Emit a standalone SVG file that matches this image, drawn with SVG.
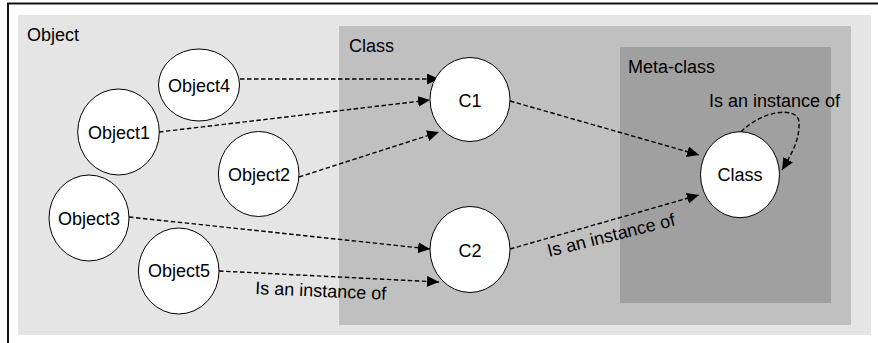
<svg xmlns="http://www.w3.org/2000/svg" width="878" height="343" viewBox="0 0 878 343">
<style>
.node ellipse{fill:#fff;stroke:#000;stroke-width:1}
text{font-family:"Liberation Sans",Arial,sans-serif;font-size:18px;fill:#000}
.nt{text-anchor:middle}
.edge{fill:none;stroke:#000;stroke-width:1.4;stroke-dasharray:4.5 2.5;marker-end:url(#ah)}
</style>
<defs>
<marker id="ah" markerUnits="userSpaceOnUse" markerWidth="13" markerHeight="12" refX="12" refY="5.5" orient="auto">
<path d="M0,0 L12,5.5 L0,11 z" fill="#000"/>
</marker>
</defs>
<rect width="878" height="343" fill="#fff"/>
<path d="M8,343 V3.5 H878" fill="none" stroke="#111" stroke-width="2"/>
<g id="region-object">
<rect x="18" y="15" width="853" height="320" fill="#e5e5e5"/>
<text x="27" y="41">Object</text>
</g>
<g id="region-class">
<rect x="339" y="26" width="512" height="299" fill="#c0c0c0"/>
<text x="349" y="52">Class</text>
</g>
<g id="region-metaclass">
<rect x="620" y="47" width="211" height="256" fill="#a0a0a0"/>
<text x="628" y="73">Meta-class</text>
</g>
<g id="connectors">
<path class="edge" d="M240,79 L439,79"/>
<path class="edge" d="M159,132 L430,100"/>
<path class="edge" d="M299,177 L439,132"/>
<path class="edge" d="M129,217 L430,249"/>
<path class="edge" d="M219,271 L439,282"/>
<path class="edge" d="M510,101 L699,155"/>
<path class="edge" d="M510,249 L699,195"/>
<path class="edge" d="M741,132 C762,110 798,106 799,122 C800,140 791,155 782,170"/>
<text x="709" y="107">Is an instance of</text>
<text x="255" y="294" transform="rotate(2.5 255 294)">Is an instance of</text>
<text x="549" y="257" transform="rotate(-14 549 257)">Is an instance of</text>
</g>
<g id="Object4" class="node"><ellipse cx="199" cy="85" rx="40.5" ry="36"/><text class="nt" x="199" y="92">Object4</text></g>
<g id="Object1" class="node"><ellipse cx="118.5" cy="132" rx="40.8" ry="43"/><text class="nt" x="119" y="139">Object1</text></g>
<g id="Object2" class="node"><ellipse cx="258.7" cy="174" rx="40.3" ry="42.5"/><text class="nt" x="259" y="181">Object2</text></g>
<g id="Object3" class="node"><ellipse cx="89" cy="218" rx="40" ry="43"/><text class="nt" x="89" y="225">Object3</text></g>
<g id="Object5" class="node"><ellipse cx="178.7" cy="271" rx="40.3" ry="43"/><text class="nt" x="179" y="277">Object5</text></g>
<g id="C1" class="node"><ellipse cx="470" cy="99.5" rx="40" ry="42"/><text class="nt" x="470" y="106.5">C1</text></g>
<g id="C2" class="node"><ellipse cx="470" cy="249.5" rx="40" ry="43"/><text class="nt" x="470" y="256.5">C2</text></g>
<g id="Class" class="node"><ellipse cx="740" cy="174.7" rx="39.5" ry="43"/><text class="nt" x="740" y="181">Class</text></g>
</svg>
